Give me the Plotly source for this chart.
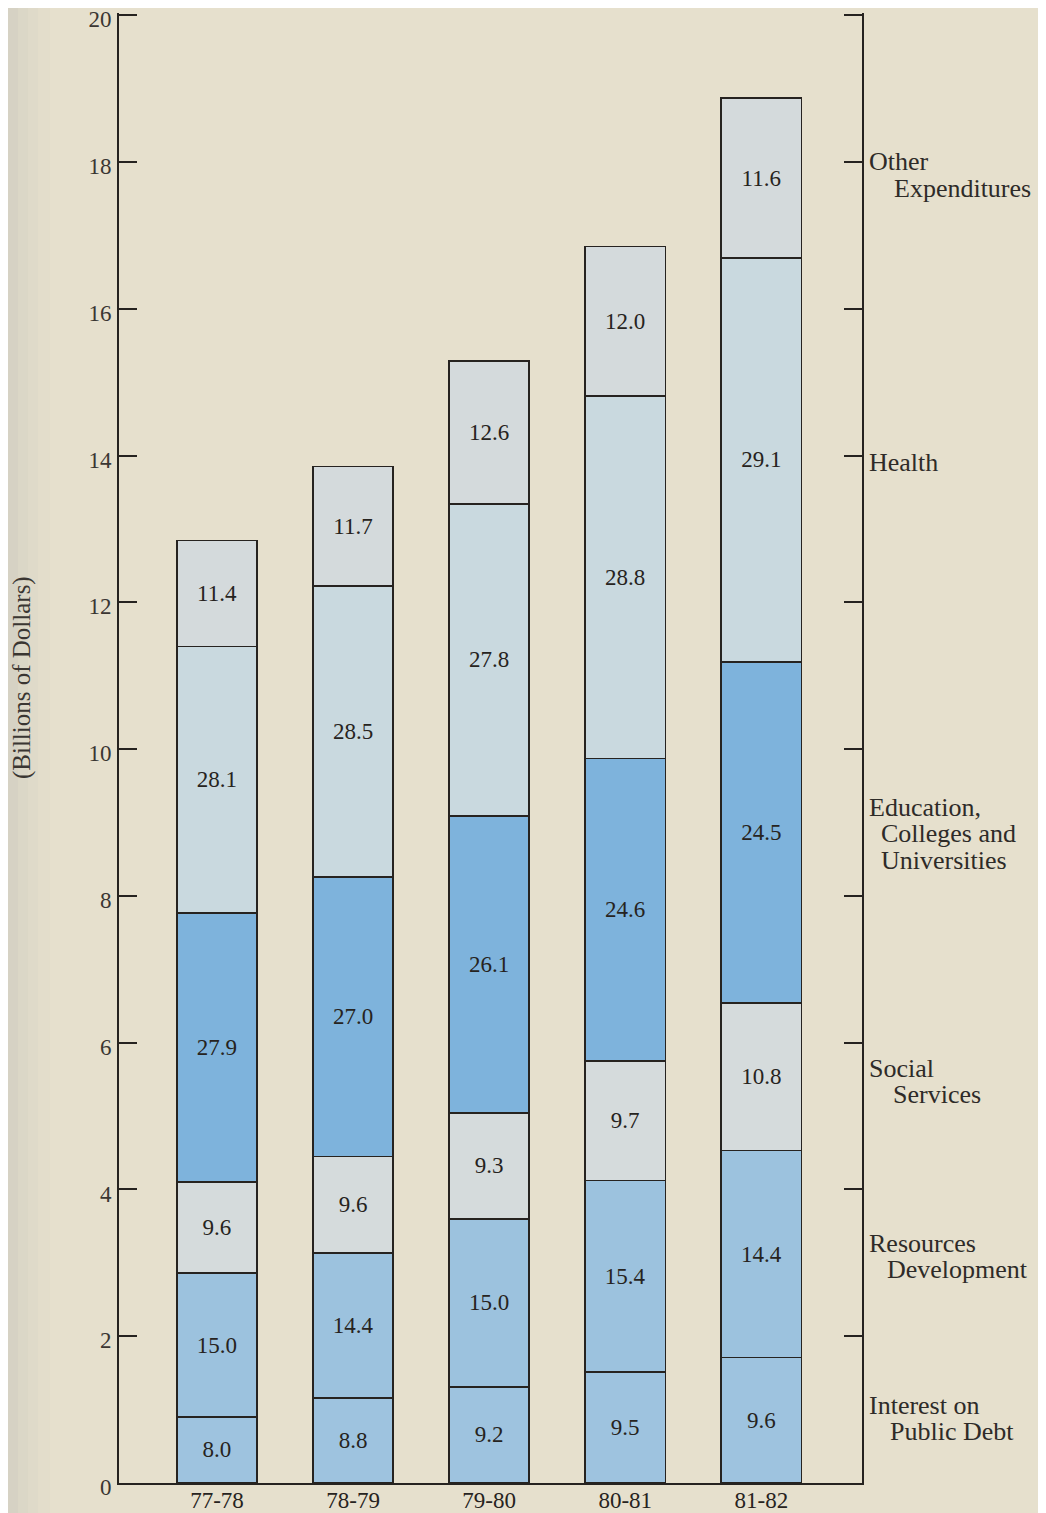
import plotly.graph_objects as go

# ---- data (billions of dollars) ----
years = ["77-78", "78-79", "79-80", "80-81", "81-82"]

interest = [0.90, 1.16, 1.31, 1.51, 1.71]
resources = [1.96, 1.97, 2.29, 2.61, 2.82]
social = [1.24, 1.32, 1.44, 1.63, 2.01]
education = [3.67, 3.81, 4.05, 4.12, 4.65]
health = [3.63, 3.96, 4.25, 4.94, 5.50]
other = [1.44, 1.63, 1.95, 2.04, 2.18]

# percentage labels printed in the segments
interest_pct = [8.0, 8.8, 9.2, 9.5, 9.6]
resources_pct = [15.0, 14.4, 15.0, 15.4, 14.4]
social_pct = [9.6, 9.6, 9.3, 9.7, 10.8]
education_pct = [27.9, 27.0, 26.1, 24.6, 24.5]
health_pct = [28.1, 28.5, 27.8, 28.8, 29.1]
other_pct = [11.4, 11.7, 12.6, 12.0, 11.6]

y_ticks = [0, 2, 4, 6, 8, 10, 12, 14, 16, 18, 20]

# category labels on the right axis
cat_names = [
    ["Interest on", "Public Debt"],
    ["Resources", "Development"],
    ["Social", "Services"],
    ["Education,", "Colleges and", "Universities"],
    ["Health"],
    ["Other", "Expenditures"],
]

# ---- styling ----
BG = "#e6e0cd"
INK = "#262320"
SERIF = "Liberation Serif"
colors = ["#9ec3df", "#9cc2de", "#d5dbdc", "#7eb3dc", "#c9d9df", "#d4dadc"]
label_y = [1.06, 3.27, 5.65, 9.21, 13.9, 18.0]
indents = [[0, 21], [0, 18], [0, 24], [0, 12, 12], [0], [0, 25]]

series = [interest, resources, social, education, health, other]
pcts = [interest_pct, resources_pct, social_pct, education_pct, health_pct, other_pct]

fig = go.Figure()
for vals, pc, col, nm in zip(series, pcts, colors, cat_names):
    fig.add_trace(go.Bar(
        x=years, y=vals, name=" ".join(nm),
        marker=dict(color=col, line=dict(color=INK, width=1.6)),
        text=[f"{p:.1f}" for p in pc],
        textposition="inside", insidetextanchor="middle", textangle=0,
        textfont=dict(family=SERIF, size=23, color=INK),
        width=0.59, hoverinfo="skip",
    ))

annotations = [dict(
    text="(Billions of Dollars)", textangle=-90,
    xref="paper", yref="paper", x=-0.1305, y=0.5476,
    xanchor="center", yanchor="middle", showarrow=False,
    font=dict(family=SERIF, size=25, color="#3a3632"),
)]
for lines, y0, ind in zip(cat_names, label_y, indents):
    for i, (ln, dx) in enumerate(zip(lines, ind)):
        annotations.append(dict(
            text=ln, xref="paper", yref="y", x=1.0, y=y0,
            xanchor="left", yanchor="middle", xshift=5 + dx, yshift=-26.5 * i,
            showarrow=False, font=dict(family=SERIF, size=26, color="#2e2b28"),
        ))

# faint scan shading along the left page edge
shapes = []
edge = [(-0.1494, -0.1359, 0.24), (-0.1359, -0.1225, 0.16),
        (-0.1225, -0.1090, 0.10), (-0.1090, -0.0929, 0.045)]
for x0, x1, op in edge:
    shapes.append(dict(type="rect", xref="paper", yref="paper",
                       x0=x0, x1=x1, y0=-0.03, y1=1.01,
                       fillcolor="#a4a8a6", opacity=op, line=dict(width=0),
                       layer="below"))

# the page body has an 8px margin; the figure is offset by it
fig.update_layout(
    barmode="stack",
    width=1046, height=1513,
    margin=dict(l=111, r=192, t=5, b=38, autoexpand=False),
    paper_bgcolor=BG, plot_bgcolor=BG,
    showlegend=False,
    annotations=annotations,
    shapes=shapes,
    xaxis=dict(
        type="category", range=[-0.72, 4.74], automargin=False,
        showline=True, linecolor=INK, linewidth=2,
        ticks="", showgrid=False, zeroline=False,
        tickfont=dict(family=SERIF, size=23, color=INK),
        ticklabeloverflow="allow", ticklabelstandoff=-5,
    ),
    yaxis=dict(
        range=[0, 20.03], tickvals=y_ticks, automargin=False,
        showline=True, linecolor=INK, linewidth=2, mirror="ticks",
        ticks="inside", ticklen=18, tickwidth=2, tickcolor=INK,
        showgrid=False, zeroline=False,
        tickfont=dict(family=SERIF, size=23, color="#3a3632"),
        ticklabelstandoff=1, ticklabeloverflow="allow", ticklabelshift=4,
    ),
)

fig.write_html("out.html")
